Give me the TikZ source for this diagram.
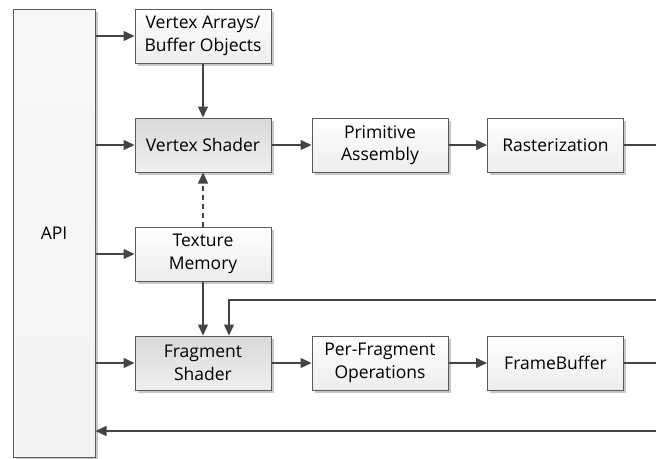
\documentclass[tikz,border=0pt]{standalone}
\usepackage{fontspec}
\setmainfont{Open Sans}
\usetikzlibrary{arrows.meta,shadows,positioning}
\definecolor{linegray}{HTML}{444444}
\definecolor{edgegray}{HTML}{5A5A5A}
\tikzset{
  stagebox/.style={draw=edgegray, line width=1pt, minimum width=136pt, minimum height=54pt,
    inner sep=2pt, align=center, font=\fontsize{17.5}{22.5}\selectfont,
    top color=white, bottom color=gray!14,
    drop shadow={shadow xshift=2.5pt, shadow yshift=-2.5pt, fill=gray!55, opacity=0.8}},
  shaderbox/.style={stagebox, top color=gray!30, bottom color=gray!12},
  apibox/.style={stagebox, minimum width=82pt, minimum height=448pt,
    top color=gray!6, bottom color=gray!9},
  flow/.style={draw=linegray, line width=1.4pt, -{Triangle[length=11pt,width=10pt]}},
  plainline/.style={draw=linegray, line width=1.4pt},
  dashflow/.style={flow, dash pattern=on 5pt off 4pt}
}
\begin{document}
\begin{tikzpicture}[x=1pt,y=-1pt]
\useasboundingbox (0,0) rectangle (656,458);

% left column: the API block
\node[apibox] (api) at (54,233) {API};

% middle column
\node[stagebox]  (va) at (203,36)  {Vertex Arrays/\\Buffer Objects};
\node[shaderbox] (vs) at (203,145) {Vertex Shader};
\node[stagebox]  (tm) at (203,254) {Texture\\Memory};
\node[shaderbox] (fs) at (203,363) {Fragment\\Shader};

% vertex stage row
\node[stagebox] (pa) at (380,145)   {Primitive\\Assembly};
\node[stagebox] (ra) at (555.5,145) {Rasterization};

% fragment stage row
\node[stagebox] (pf) at (380,363)   {Per-Fragment\\Operations};
\node[stagebox] (fb) at (555.5,363) {FrameBuffer};

% loose ends running off the right edge
\coordinate (rasterOut) at (656,145);
\coordinate (fragIn)    at (656,300);
\coordinate (fbOut)     at (656,363);
\coordinate (backIn)    at (656,431);

% API feeds every stage in the middle column
\draw[flow] (api.east |- va) -- (va);
\draw[flow] (api.east |- vs) -- (vs);
\draw[flow] (api.east |- tm) -- (tm);
\draw[flow] (api.east |- fs) -- (fs);

% vertical connections
\draw[flow] (va) -- (vs);
\draw[dashflow] (tm) -- (vs);
\draw[flow] (tm) -- (fs);

% horizontal pipeline
\draw[flow] (vs) -- (pa);
\draw[flow] (pa) -- (ra);
\draw[plainline] (ra) -- (rasterOut);
\draw[flow] (fs) -- (pf);
\draw[flow] (pf) -- (fb);
\draw[plainline] (fb) -- (fbOut);

% rasterized fragments coming back into the fragment shader
\draw[flow] (fragIn) -| ([xshift=26pt]fs.north);

% results returning to the API
\draw[flow] (backIn) -- (api.east |- backIn);
\end{tikzpicture}
\end{document}
